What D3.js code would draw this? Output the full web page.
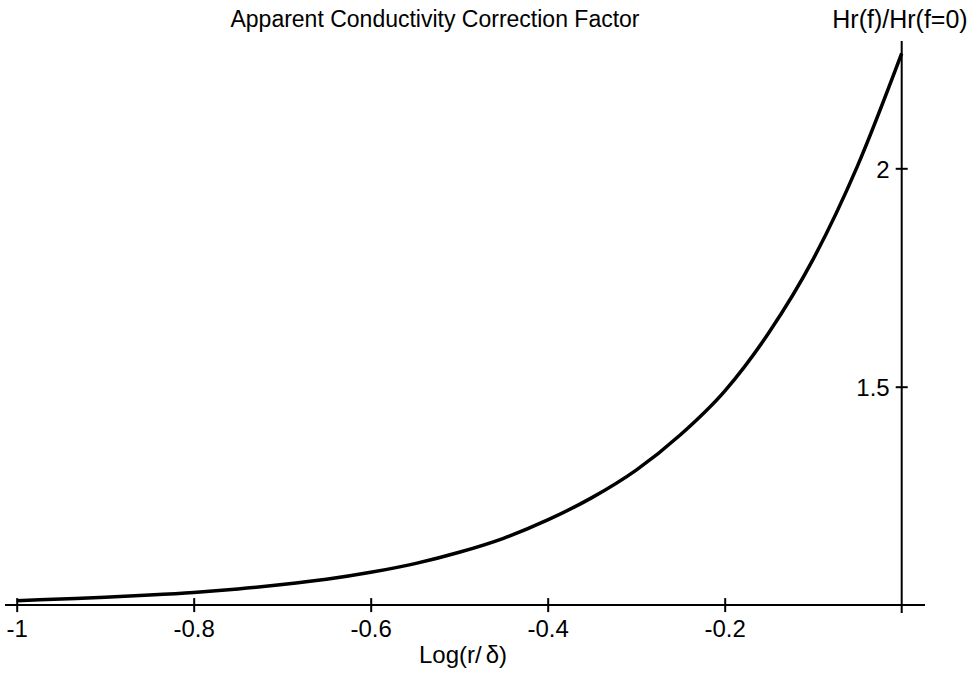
<!DOCTYPE html>
<html lang="en">
<head>
<meta charset="utf-8">
<style>
  body { margin: 0; background: #fff; }
  svg { font-family: "Liberation Sans", Arial, sans-serif; }
  .curve { fill: none; stroke: #000; stroke-width: 3.5px; }
  .axis path, .axis line { stroke: #000; stroke-width: 2px; }
  .axis text { font-size: 24px; fill: #000; font-family: "Liberation Sans", Arial, sans-serif; }
</style>
<script src="https://d3js.org/d3.v7.min.js"></script>
</head>
<body>
<script>
var width = 980, height = 674;

// values
var logRatio = [-1, -0.95, -0.9, -0.85, -0.8, -0.75, -0.7, -0.65, -0.6, -0.55, -0.5,
                -0.45, -0.4, -0.35, -0.3, -0.25, -0.2, -0.15, -0.1, -0.05, 0];
var factor   = [1.010, 1.014, 1.018, 1.023, 1.029, 1.037, 1.047, 1.059, 1.075, 1.095, 1.121,
                1.153, 1.195, 1.246, 1.309, 1.390, 1.490, 1.624, 1.792, 2.005, 2.263];
var xTicks = [-1, -0.8, -0.6, -0.4, -0.2];
var yTicks = [1.5, 2];

var svg = d3.select("body").append("svg")
  .attr("width", width)
  .attr("height", height);

var x = d3.scaleLinear().domain([-1, 0]).range([16.7, 901.7]);
var y = d3.scaleLinear().domain([1, 2]).range([605.1, 168.3]);

var fmt = function(d) { return String(d); }; // plain hyphen, not unicode minus

// x axis
var gx = svg.append("g").attr("class", "axis")
  .attr("transform", "translate(0," + y(1) + ")")
  .call(d3.axisBottom(x).tickValues(xTicks).tickFormat(fmt).tickSizeOuter(0));
gx.select(".domain").attr("d", "M5,0H925");
gx.selectAll(".tick line").attr("y1", -7).attr("y2", 7);
gx.selectAll(".tick text").attr("y", 32).attr("dy", 0);

// y axis on the right
var gy = svg.append("g").attr("class", "axis")
  .attr("transform", "translate(" + x(0) + ",0)")
  .call(d3.axisLeft(y).tickValues(yTicks).tickFormat(fmt).tickSizeOuter(0).tickPadding(6));
gy.select(".domain").attr("d", "M0,41V613");
gy.selectAll(".tick line").attr("x1", -6).attr("x2", 6);
gy.selectAll(".tick text").attr("dy", "0.38em");

// curve
var pts = logRatio.map(function(d, i) { return [d, factor[i]]; });
var line = d3.line()
  .x(function(d) { return x(d[0]); })
  .y(function(d) { return y(d[1]); })
  .curve(d3.curveMonotoneX);
svg.append("path").datum(pts).attr("class", "curve").attr("d", line);

// titles
svg.append("text").attr("x", 435).attr("y", 27)
  .attr("text-anchor", "middle").style("font-size", "23px")
  .text("Apparent Conductivity Correction Factor");
svg.append("text").attr("x", 900).attr("y", 28)
  .attr("text-anchor", "middle").style("font-size", "25px")
  .text("Hr(f)/Hr(f=0)");
var xl = svg.append("text").attr("x", 463).attr("y", 663)
  .attr("text-anchor", "middle").style("font-size", "24px");
xl.append("tspan").text("Log(r/");
xl.append("tspan").attr("dx", 4).text("δ");
xl.append("tspan").text(")");
</script>
</body>
</html>
